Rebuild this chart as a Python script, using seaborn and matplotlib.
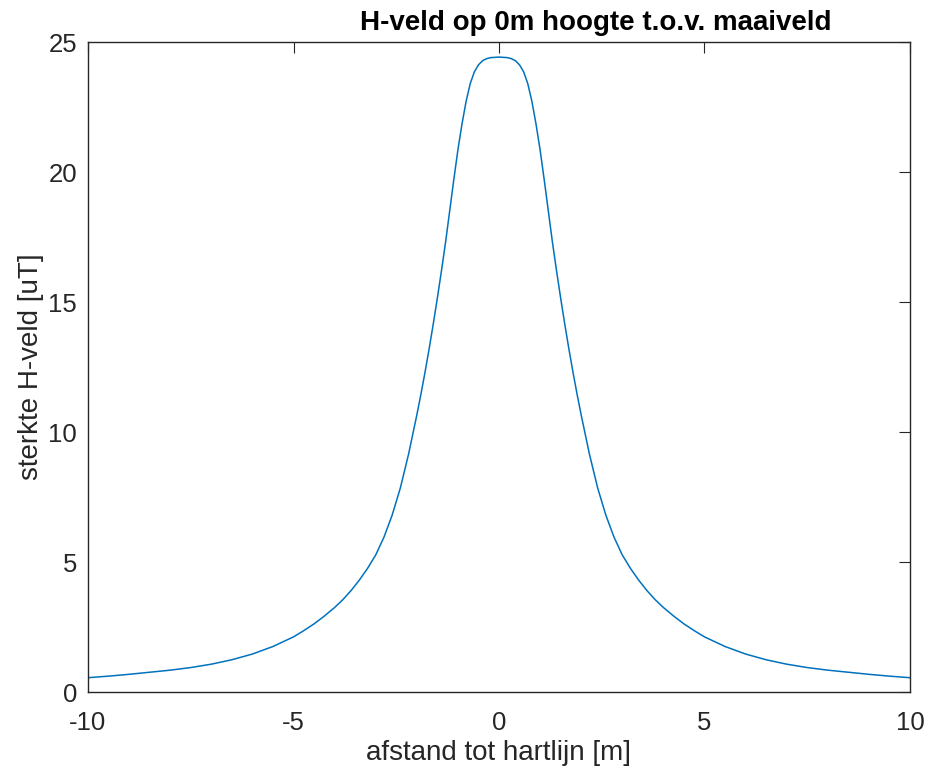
import matplotlib
matplotlib.use("Agg")
import matplotlib.pyplot as plt
import seaborn as sns
import pandas as pd

# Distance to centre line [m] and field strength [uT]
afstand = [-10.0, -9.5, -9.0, -8.5, -8.0, -7.5, -7.0, -6.5, -6.0, -5.5,
           -5.0, -4.75, -4.5, -4.25, -4.0, -3.8, -3.6, -3.4, -3.2, -3.0,
           -2.8, -2.6, -2.4, -2.2, -2.0, -1.9, -1.8, -1.7, -1.6, -1.5,
           -1.4, -1.3, -1.2, -1.1, -1.0, -0.9, -0.8, -0.7, -0.6, -0.5,
           -0.4, -0.3, -0.2, 0.0,
           0.2, 0.3, 0.4, 0.5, 0.6, 0.7, 0.8, 0.9, 1.0, 1.1,
           1.2, 1.3, 1.4, 1.5, 1.6, 1.7, 1.8, 1.9, 2.0, 2.2,
           2.4, 2.6, 2.8, 3.0, 3.2, 3.4, 3.6, 3.8, 4.0, 4.25,
           4.5, 4.75, 5.0, 5.5, 6.0, 6.5, 7.0, 7.5, 8.0, 8.5,
           9.0, 9.5, 10.0]
sterkte = [0.55, 0.61, 0.68, 0.76, 0.84, 0.94, 1.07, 1.24, 1.46, 1.75,
           2.12, 2.36, 2.62, 2.92, 3.25, 3.55, 3.90, 4.30, 4.75, 5.27,
           5.95, 6.80, 7.85, 9.15, 10.65, 11.45, 12.30, 13.20, 14.15, 15.15,
           16.20, 17.30, 18.50, 19.70, 20.85, 21.85, 22.72, 23.40, 23.85, 24.12,
           24.28, 24.36, 24.40, 24.42,
           24.40, 24.36, 24.28, 24.12, 23.85, 23.40, 22.72, 21.85, 20.85, 19.70,
           18.50, 17.30, 16.20, 15.15, 14.15, 13.20, 12.30, 11.45, 10.65, 9.15,
           7.85, 6.80, 5.95, 5.27, 4.75, 4.30, 3.90, 3.55, 3.25, 2.92,
           2.62, 2.36, 2.12, 1.75, 1.46, 1.24, 1.07, 0.94, 0.84, 0.76,
           0.68, 0.61, 0.55]

x_ticks = [-10, -5, 0, 5, 10]
y_ticks = [0, 5, 10, 15, 20, 25]
title = "H-veld op 0m hoogte t.o.v. maaiveld"
xlabel = "afstand tot hartlijn [m]"
ylabel = "sterkte H-veld [uT]"

sns.set_style("white")
plt.rcParams["font.family"] = ["Liberation Sans", "DejaVu Sans"]

df = pd.DataFrame({"x": afstand, "H": sterkte})

fig = plt.figure(figsize=(9.29, 7.76), dpi=100)
ax = fig.add_axes([88 / 929, 1 - 692 / 776, 822 / 929, 650 / 776])

sns.lineplot(data=df, x="x", y="H", ax=ax, color="#0072BD", linewidth=1.1,
             estimator=None, sort=True)

ax.set_xlim(-10, 10)
ax.set_ylim(0, 25)
ax.set_xticks(x_ticks)
ax.set_yticks(y_ticks)
ax.set_xticklabels([str(t) for t in x_ticks])
ax.set_yticklabels([str(t) for t in y_ticks])

for s in ax.spines.values():
    s.set_visible(True)
    s.set_color("#262626")
    s.set_linewidth(1.0)

ax.tick_params(axis="both", direction="in", length=8, width=0.8, color="#262626",
               top=True, right=True, labelsize=18.5, labelcolor="#262626")
ax.tick_params(axis="x", pad=14)
ax.tick_params(axis="y", pad=8)

ax.set_xlabel(xlabel, fontsize=20, color="#262626")
ax.set_ylabel(ylabel, fontsize=20, color="#262626", va="center")
ax.xaxis.set_label_coords(0.5, -(740 - 692) / 650)
ax.yaxis.set_label_coords((31 - 88) / 822, 0.5)

fig.text(596 / 929, 1 - 30 / 776, title, ha="center", va="baseline",
         fontsize=20, fontweight="bold", color="black")

fig.savefig("out.png", dpi=100)
